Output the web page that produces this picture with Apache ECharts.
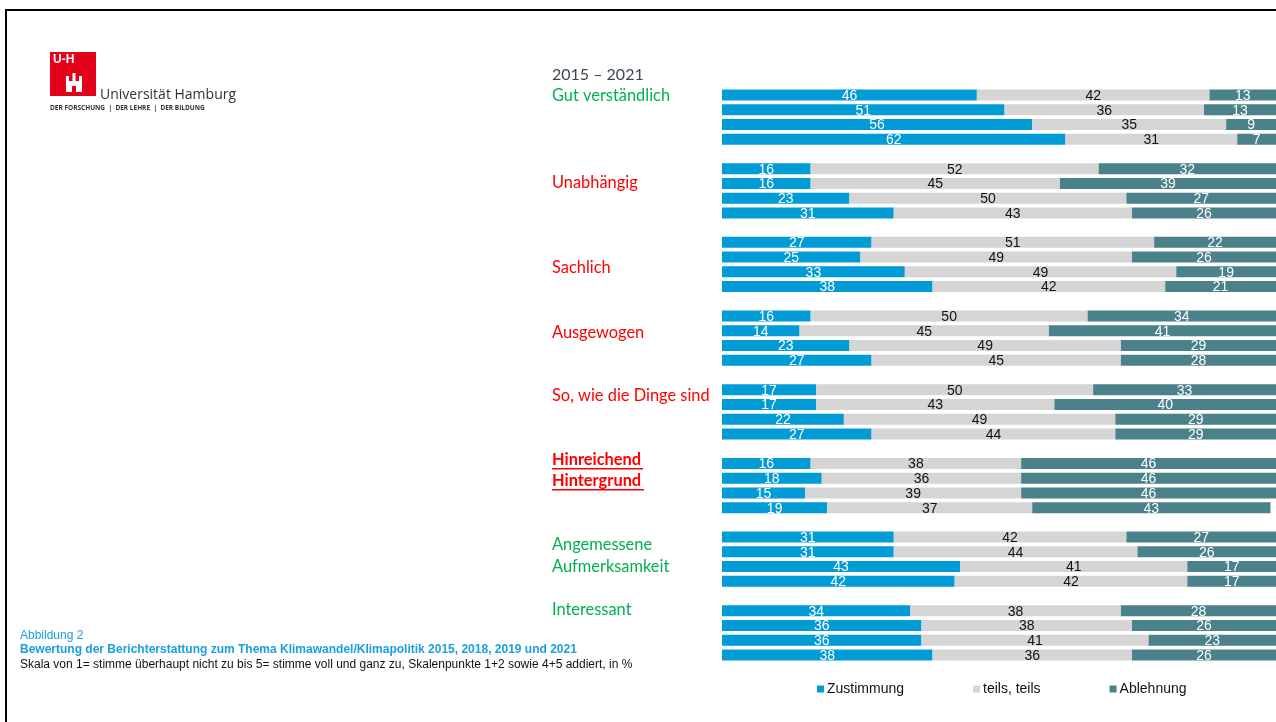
<!DOCTYPE html>
<html>
<head>
<meta charset="utf-8">
<script src="https://cdn.jsdelivr.net/npm/echarts@6/dist/echarts.min.js"></script>
<style>
html,body{margin:0;padding:0;background:#fff;}
#chart{width:1276px;height:722px;}
</style>
</head>
<body>
<div id="chart"></div>
<script>
// ---- data ----
const groups = ['Gut verständlich','Unabhängig','Sachlich','Ausgewogen','So, wie die Dinge sind','Hinreichend Hintergrund','Angemessene Aufmerksamkeit','Interessant'];
const years = ['2015','2018','2019','2021'];
const seriesNames = ['Zustimmung','teils, teils','Ablehnung'];
const zustimmung = [
  [46,51,56,62],[16,16,23,31],[27,25,33,38],[16,14,23,27],
  [17,17,22,27],[16,18,15,19],[31,31,43,42],[34,36,36,38]
];
const teils = [
  [42,36,35,31],[52,45,50,43],[51,49,49,42],[50,45,49,45],
  [50,43,49,44],[38,36,39,37],[42,44,41,42],[38,38,41,36]
];
const ablehnung = [
  [13,13,9,7],[32,39,27,26],[22,26,19,21],[34,41,29,28],
  [33,40,29,29],[46,46,46,43],[27,26,17,17],[28,26,23,26]
];
const periodLabel = '2015 – 2021';
const captionLines = [
  'Abbildung 2',
  'Bewertung der Berichterstattung zum Thema Klimawandel/Klimapolitik 2015, 2018, 2019 und 2021',
  'Skala von 1= stimme überhaupt nicht zu bis 5= stimme voll und ganz zu, Skalenpunkte 1+2 sowie 4+5 addiert, in %'
];

// ---- build slot arrays (4 bars + 1 gap per group) ----
const cats = [];
const sZ = [], sT = [], sA = [];
groups.forEach((g, gi) => {
  years.forEach((y, yi) => {
    cats.push(g + ' ' + y);
    sZ.push(zustimmung[gi][yi]);
    sT.push(teils[gi][yi]);
    sA.push(ablehnung[gi][yi]);
  });
  if (gi < groups.length - 1) {
    cats.push('gap' + gi);
    sZ.push('-'); sT.push('-'); sA.push('-');
  }
});

const BLUE = '#019cd5', GREY = '#d5d5d5', TEAL = '#4a818b';
const GREEN = '#00b050', RED = '#ff0000';
const labelFont = "'Liberation Sans Narrow','Arial Narrow','Liberation Sans',sans-serif";
const catFont = "Lato, 'Open Sans', sans-serif";

function mkSeries(name, data, color, labelColor) {
  return {
    name: name, type: 'bar', stack: 'all', data: data,
    barWidth: 11,
    itemStyle: { color: color },
    label: { show: true, position: 'inside', color: labelColor, fontSize: 14, fontFamily: labelFont, offset: [0, 1] },
    emphasis: { disabled: true }
  };
}

// ---- left-side category texts ----
const groupLabels = [
  { t: groups[0], y: 96, c: GREEN },
  { t: groups[1], y: 183, c: RED },
  { t: groups[2], y: 268, c: RED },
  { t: groups[3], y: 333, c: RED },
  { t: groups[4], y: 396, c: RED },
  { t: 'Hinreichend', y: 460, c: RED, b: true },
  { t: 'Hintergrund', y: 481, c: RED, b: true },
  { t: 'Angemessene', y: 545, c: GREEN },
  { t: 'Aufmerksamkeit', y: 567, c: GREEN },
  { t: groups[7], y: 610, c: GREEN }
];

const graphics = [
  // frame lines
  { type: 'rect', shape: { x: 5, y: 9, width: 1271, height: 2 }, style: { fill: '#000' } },
  { type: 'rect', shape: { x: 5, y: 9, width: 2, height: 713 }, style: { fill: '#000' } },
  // logo
  { type: 'rect', shape: { x: 50, y: 52, width: 46, height: 44 }, style: { fill: '#e2001a' } },
  { type: 'text', x: 53, y: 54, style: { text: 'U‑H', fill: '#fff', fontSize: 12, fontFamily: 'Liberation Sans', fontWeight: 'bold' } },
  // castle
  { type: 'rect', shape: { x: 66, y: 81, width: 16, height: 11 }, style: { fill: '#fff' } },
  { type: 'rect', shape: { x: 66, y: 76, width: 3, height: 6 }, style: { fill: '#fff' } },
  { type: 'rect', shape: { x: 72.5, y: 73, width: 3, height: 9 }, style: { fill: '#fff' } },
  { type: 'rect', shape: { x: 79, y: 76, width: 3, height: 6 }, style: { fill: '#fff' } },
  { type: 'rect', shape: { x: 72, y: 86, width: 4, height: 6 }, style: { fill: '#e2001a' } },
  { type: 'text', x: 100, y: 95, style: { text: 'Universität Hamburg', fill: '#333', fontSize: 14, fontFamily: "'Open Sans','Noto Sans',sans-serif", verticalAlign: 'middle' } },
  { type: 'text', x: 50, y: 108, style: { text: 'DER FORSCHUNG  |  DER LEHRE  |  DER BILDUNG', fill: '#333', fontSize: 6.5, fontWeight: 'bold', fontFamily: "'Open Sans','Noto Sans',sans-serif", verticalAlign: 'middle' } },
  // period label
  { type: 'text', x: 552, y: 75, style: { text: periodLabel, fill: '#3c4650', fontSize: 16, fontFamily: catFont, verticalAlign: 'middle' } },
  // underlines
  { type: 'rect', shape: { x: 552, y: 468, width: 91, height: 1.5 }, style: { fill: RED } },
  { type: 'rect', shape: { x: 552, y: 489, width: 92, height: 1.5 }, style: { fill: RED } },
  // caption
  { type: 'text', x: 20, y: 636, style: { text: captionLines[0], fill: '#1aa0dc', fontSize: 12, fontFamily: 'Liberation Sans', verticalAlign: 'middle' } },
  { type: 'text', x: 20, y: 650, style: { text: captionLines[1], fill: '#1aa0dc', fontSize: 12, fontWeight: 'bold', fontFamily: 'Liberation Sans', verticalAlign: 'middle' } },
  { type: 'text', x: 20, y: 665, style: { text: captionLines[2], fill: '#111', fontSize: 12, fontFamily: 'Liberation Sans', verticalAlign: 'middle' } }
];
groupLabels.forEach(l => {
  graphics.push({ type: 'text', x: 552, y: l.y, style: { text: l.t, fill: l.c, fontSize: 16.4, fontWeight: l.b ? 'bold' : 'normal', fontFamily: catFont, verticalAlign: 'middle' } });
});

const chart = echarts.init(document.getElementById('chart'), null, { renderer: 'canvas' });
chart.setOption({
  animation: false,
  backgroundColor: '#fff',
  grid: { left: 722, top: 87.6, width: 556, height: 574.8, containLabel: false },
  xAxis: { type: 'value', min: 0, max: 100, show: false },
  yAxis: { type: 'category', data: cats, inverse: true, show: false },
  legend: {
    data: seriesNames, left: 812, top: 677, icon: 'rect', itemWidth: 7, itemHeight: 7, itemGap: 69,
    textStyle: { fontSize: 14, fontFamily: 'Liberation Sans', color: '#111', padding: [0, 0, 0, -2] }, selectedMode: false
  },
  series: [
    mkSeries(seriesNames[0], sZ, BLUE, '#fff'),
    mkSeries(seriesNames[1], sT, GREY, '#111'),
    mkSeries(seriesNames[2], sA, TEAL, '#fff')
  ],
  graphic: graphics
});
</script>
</body>
</html>
